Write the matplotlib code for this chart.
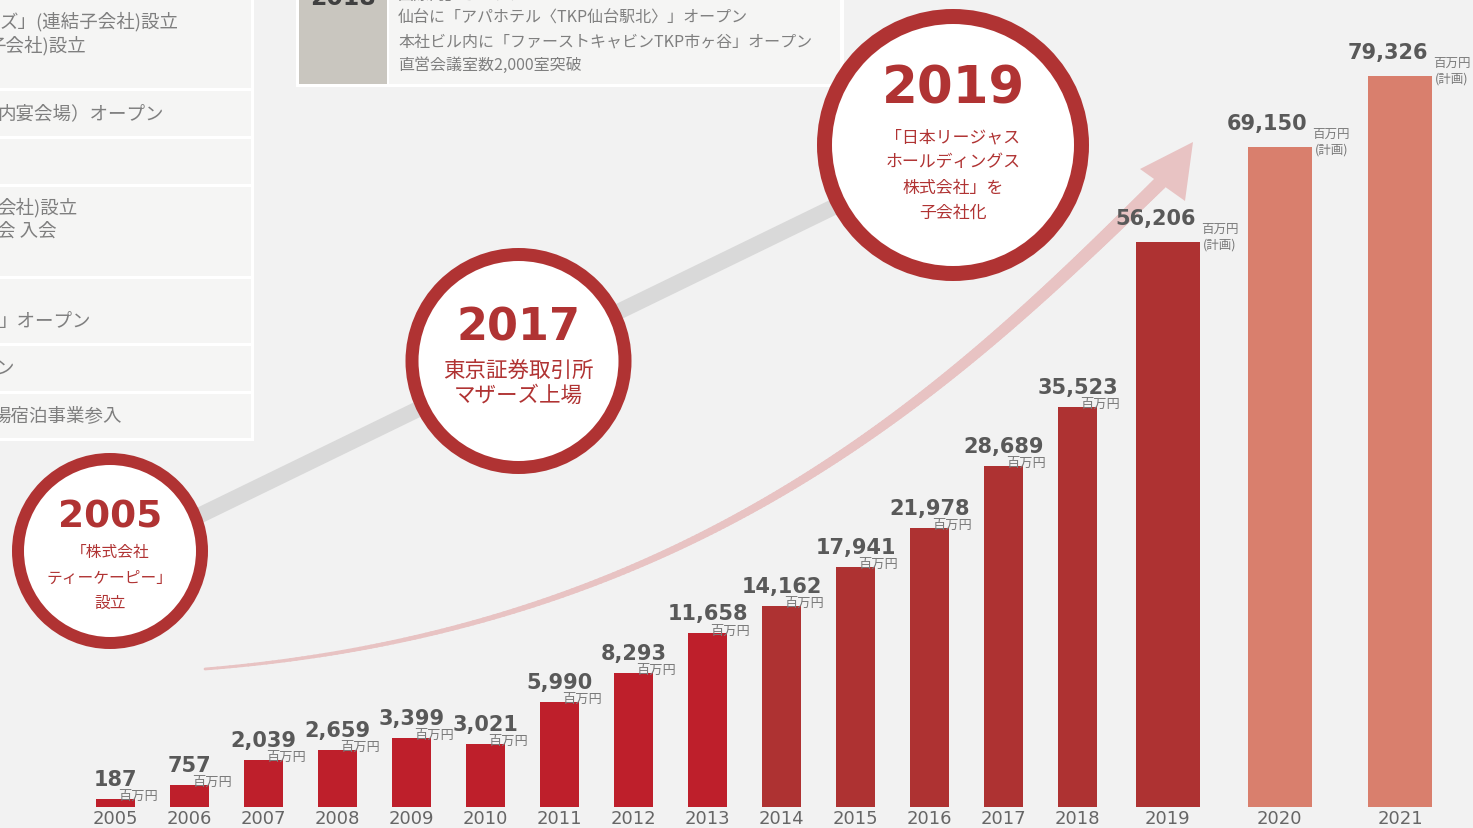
import numpy as np
import matplotlib
matplotlib.use('Agg')
import matplotlib.pyplot as plt
from matplotlib.patches import Circle, Rectangle, Polygon
from matplotlib.collections import LineCollection

plt.rcParams['font.family'] = ['Noto Sans CJK JP', 'DejaVu Sans']

# sales (百万円)
years = ['2005', '2006', '2007', '2008', '2009', '2010', '2011', '2012', '2013',
         '2014', '2015', '2016', '2017', '2018', '2019', '2020', '2021']
sales = [187, 757, 2039, 2659, 3399, 3021, 5990, 8293, 11658,
         14162, 17941, 21978, 28689, 35523, 56206, 69150, 79326]
units = ['百万円'] * 14 + ['百万円\n(計画)'] * 3

circle_years = ['2005', '2017', '2019']
circle_notes = [['「株式会社', 'ティーケーピー」', '設立'],
                ['東京証券取引所', 'マザーズ上場'],
                ['「日本リージャス', 'ホールディングス', '株式会社」を', '子会社化']]

left_table = [['ズ」(連結子会社)設立', '子会社)設立'],
              ['内宴会場）オープン'],
              [],
              ['会社)設立', '会 入会'],
              ['」オープン'],
              ['ン'],
              ['場宿泊事業参入']]
top_year = '2018'
top_lines = ['国際内」オープン',
             '仙台に「アパホテル〈TKP仙台駅北〉」オープン',
             '本社ビル内に「ファーストキャビンTKP市ヶ谷」オープン',
             '直営会議室数2,000室突破']

BG = '#f2f2f2'
RED = '#b03333'
CELL = '#f5f5f4'
PINK = '#e8c3c3'

fig = plt.figure(figsize=(14.73, 8.29), dpi=100)
fig.patch.set_facecolor(BG)

# ---- background decorations (pixel coordinates)
back = fig.add_axes([0, 0, 1, 1], zorder=0)
back.set_xlim(0, 1473)
back.set_ylim(829, 0)
back.axis('off')

# left history table (cut off at the left edge)
back.add_patch(Rectangle((-5, -5), 259, 447, fc='white', ec='none'))
rows = [(-5, 90), (90, 138), (138, 186), (186, 278), (278, 345), (345, 393), (393, 440)]
text_y = [[22, 46], [114], [], [208, 232], [322], [369], [416]]
text_x = [[0, -13], [-3], [], [-3, -3], [-2], [-5], [-8]]
for (top, bot), lines, ys, xs in zip(rows, left_table, text_y, text_x):
    back.add_patch(Rectangle((-5, top + 1.5), 256, bot - top - 3, fc=CELL, ec='none'))
    for t, ty, tx in zip(lines, ys, xs):
        back.text(tx, ty, t, ha='left', va='center', fontsize=13.3, color='#7f7f7f')

# top middle table
back.add_patch(Rectangle((296, -5), 548, 93, fc='white', ec='none'))
back.add_patch(Rectangle((299, -5), 88, 90, fc='#c9c6bf', ec='none'))
back.add_patch(Rectangle((389, -5), 451, 90, fc=CELL, ec='none'))
back.text(343, 5, top_year, ha='center', va='baseline', fontsize=17, fontweight='bold',
          color='#404040', family='DejaVu Sans')
for t, ty in zip(top_lines, [-5, 18, 42, 65]):
    back.text(398, ty, t, ha='left', va='center', fontsize=11.5, color='#7f7f7f')

# grey timeline
back.plot([110, 953], [560, 150], color='#d9d9d9', lw=11.5, solid_capstyle='butt')

# growth arrow
P = np.array([[205, 670], [705, 630], [962, 378], [1162, 182]], dtype=float)
t = np.linspace(0, 1, 240)[:, None]
pts = ((1 - t) ** 3 * P[0] + 3 * (1 - t) ** 2 * t * P[1]
       + 3 * (1 - t) * t ** 2 * P[2] + t ** 3 * P[3])
segs = np.stack([pts[:-1], pts[1:]], axis=1)
back.add_collection(LineCollection(segs, linewidths=np.linspace(2, 10, len(segs)),
                                   colors=PINK, capstyle='round'))
back.add_patch(Polygon([(1193, 143), (1140, 170), (1185, 202)], closed=True,
                       fc=PINK, ec='none'))

# ---- bars (power scale, like the hand drawn infographic)
gaps = [0] + [1] * 13 + [1.22, 1.51, 1.63]
x = np.cumsum(gaps)
widths = [0.54] * 14 + [0.865] * 3
colors = ['#be1f2b'] * 9 + ['#ae3232'] * 6 + ['#d97f6d'] * 2

ax = fig.add_axes([0, 21 / 829, 1, 808 / 829], zorder=1)
ax.set_facecolor('none')
ax.set_yscale('function', functions=(lambda v: np.sign(v) * np.abs(v) ** 0.75,
                                     lambda v: np.sign(v) * np.abs(v) ** (4 / 3)))
ax.bar(x, sales, width=widths, color=colors, zorder=2)
ax.set_xlim(-115.5 / 74, (1473 - 115.5) / 74)
ax.set_ylim(0, 90650)
ax.set_xticks(x, years)
ax.set_yticks([])
ax.tick_params(axis='x', length=0, pad=1.5, labelsize=13, labelcolor='#666666')
for lab in ax.get_xticklabels():
    lab.set_family('DejaVu Sans')
for s in ax.spines.values():
    s.set_visible(False)

for xi, v, w, u in zip(x, sales, widths, units):
    if w < 0.6:
        ax.annotate(f'{v:,}', (xi, v), xytext=(0, 14), textcoords='offset pixels',
                    ha='center', va='baseline', fontsize=15, fontweight='bold',
                    color='#595959', family='DejaVu Sans')
        ax.annotate(u, (xi, v), xytext=(3, -3), textcoords='offset pixels',
                    ha='left', va='bottom', fontsize=9.5, color='#7a7a7a')
    else:
        ax.annotate(f'{v:,}', (xi + w / 2, v), xytext=(-4, 18), textcoords='offset pixels',
                    ha='right', va='baseline', fontsize=15, fontweight='bold',
                    color='#595959', family='DejaVu Sans')
        ax.annotate(u, (xi + w / 2, v), xytext=(1, 6), textcoords='offset pixels',
                    ha='left', va='center', fontsize=9, color='#7a7a7a',
                    multialignment='center', linespacing=1.3)

# ---- milestone circles on top
front = fig.add_axes([0, 0, 1, 1], zorder=3)
front.set_xlim(0, 1473)
front.set_ylim(829, 0)
front.axis('off')

centers = [(110, 552), (518.5, 362), (953, 146)]
radii = [98, 113, 136]
rings = [12, 13, 15]
year_base = [527, 340, 103]
year_size = [27, 32, 37]
note_y = [553, 371, 137]
note_size = [11.3, 15.5, 12.2]
for (cx, cy), r, rw, yr, yb, ys, notes, ny, ns in zip(centers, radii, rings, circle_years,
                                                      year_base, year_size, circle_notes,
                                                      note_y, note_size):
    front.add_patch(Circle((cx, cy), r - rw / 2, fc='white', ec=RED, lw=rw * 0.72))
    front.text(cx, yb, yr, ha='center', va='baseline', fontsize=ys, fontweight='bold',
               color=RED, family='DejaVu Sans')
    for k, line in enumerate(notes):
        front.text(cx, ny + 25.3 * k, line, ha='center', va='center', fontsize=ns,
                   color=RED)

fig.savefig('out.png', dpi=100, facecolor=BG)
